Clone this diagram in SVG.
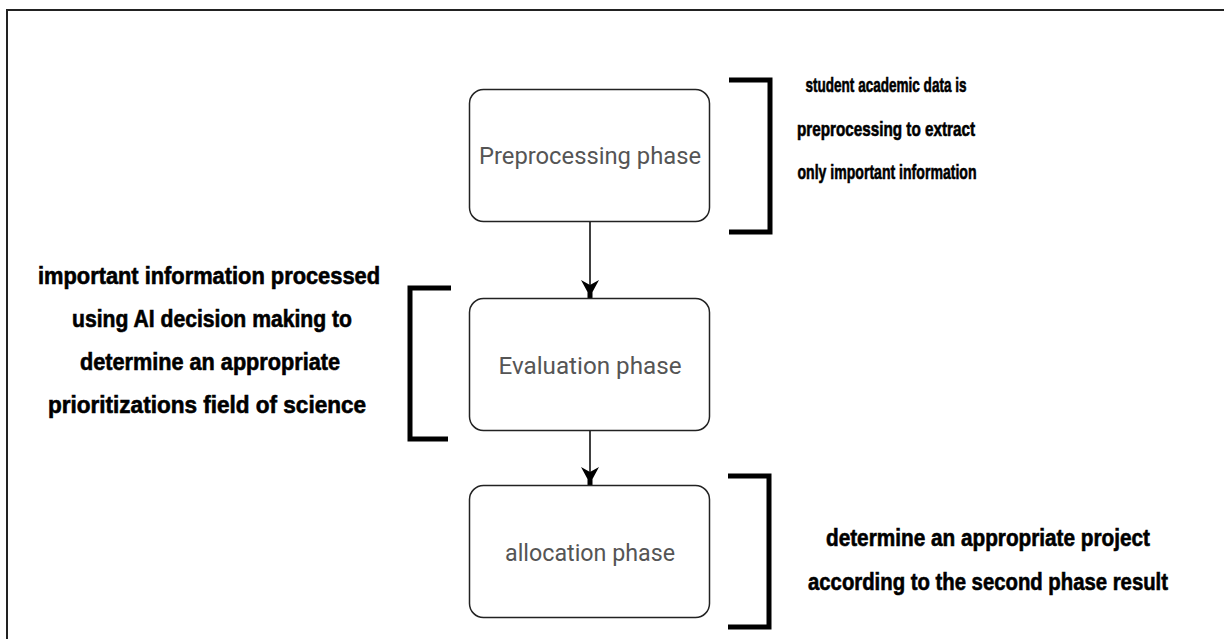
<svg xmlns="http://www.w3.org/2000/svg" width="1224" height="639" viewBox="0 0 1224 639">
<style>
.frame{fill:none;stroke:#222;stroke-width:2}
.node rect{fill:#fff;stroke:#222;stroke-width:1.5}
.node text{font-family:Roboto,"Liberation Sans",sans-serif;font-size:24px;fill:#555;text-anchor:middle}
.bracket{fill:none;stroke:#000;stroke-width:5}
.note{font-family:"Liberation Sans",Arial,sans-serif;font-weight:bold;fill:#000;text-anchor:middle;stroke:#000;stroke-width:0.6}
.conn line{stroke:#000;stroke-width:1.5}
</style>
<defs>
<marker id="ah" markerUnits="userSpaceOnUse" markerWidth="18" markerHeight="18" viewBox="0 0 18 18" refX="18" refY="9" orient="auto">
<path d="M0,0 L12,6.5 L18,6.5 L18,11.5 L12,11.5 L0,18 L5,9 Z" fill="#000"/>
</marker>
</defs>
<rect x="0" y="0" width="1224" height="639" fill="#fff"/>
<path class="frame" d="M7,639 V10 H1224"/>

<g id="connectors" class="conn">
<line x1="590" y1="222" x2="590" y2="298" marker-end="url(#ah)"/>
<line x1="590" y1="431" x2="590" y2="485" marker-end="url(#ah)"/>
</g>

<g id="node-preprocessing" class="node">
<rect x="469.5" y="89.5" width="240" height="132" rx="14"/>
<text x="590" y="164" textLength="222" lengthAdjust="spacingAndGlyphs">Preprocessing phase</text>
</g>
<g id="node-evaluation" class="node">
<rect x="469.5" y="298.5" width="240" height="132" rx="14"/>
<text x="590" y="374" textLength="183" lengthAdjust="spacingAndGlyphs">Evaluation phase</text>
</g>
<g id="node-allocation" class="node">
<rect x="469.5" y="485.5" width="240" height="132" rx="14"/>
<text x="590" y="561" textLength="170" lengthAdjust="spacingAndGlyphs">allocation phase</text>
</g>

<g id="note-1">
<path class="bracket" d="M729,80 H770 V232 H729"/>
<text class="note" font-size="20" x="886" y="92" textLength="161" lengthAdjust="spacingAndGlyphs">student academic data is</text>
<text class="note" font-size="20" x="886" y="136" textLength="178" lengthAdjust="spacingAndGlyphs">preprocessing to extract</text>
<text class="note" font-size="20" x="887" y="179" textLength="179" lengthAdjust="spacingAndGlyphs">only important information</text>
</g>

<g id="note-2">
<path class="bracket" d="M451,288 H410 V439 H448"/>
<text class="note" font-size="23" x="209" y="284" textLength="342" lengthAdjust="spacingAndGlyphs">important information processed</text>
<text class="note" font-size="23" x="212" y="327" textLength="280" lengthAdjust="spacingAndGlyphs">using AI decision making to</text>
<text class="note" font-size="23" x="210" y="370" textLength="260" lengthAdjust="spacingAndGlyphs">determine an appropriate</text>
<text class="note" font-size="23" x="207" y="413" textLength="318" lengthAdjust="spacingAndGlyphs">prioritizations field of science</text>
</g>

<g id="note-3">
<path class="bracket" d="M728,476 H769 V627 H728"/>
<text class="note" font-size="23" x="988" y="546" textLength="324" lengthAdjust="spacingAndGlyphs">determine an appropriate project</text>
<text class="note" font-size="23" x="988" y="590" textLength="360" lengthAdjust="spacingAndGlyphs">according to the second phase result</text>
</g>
</svg>
